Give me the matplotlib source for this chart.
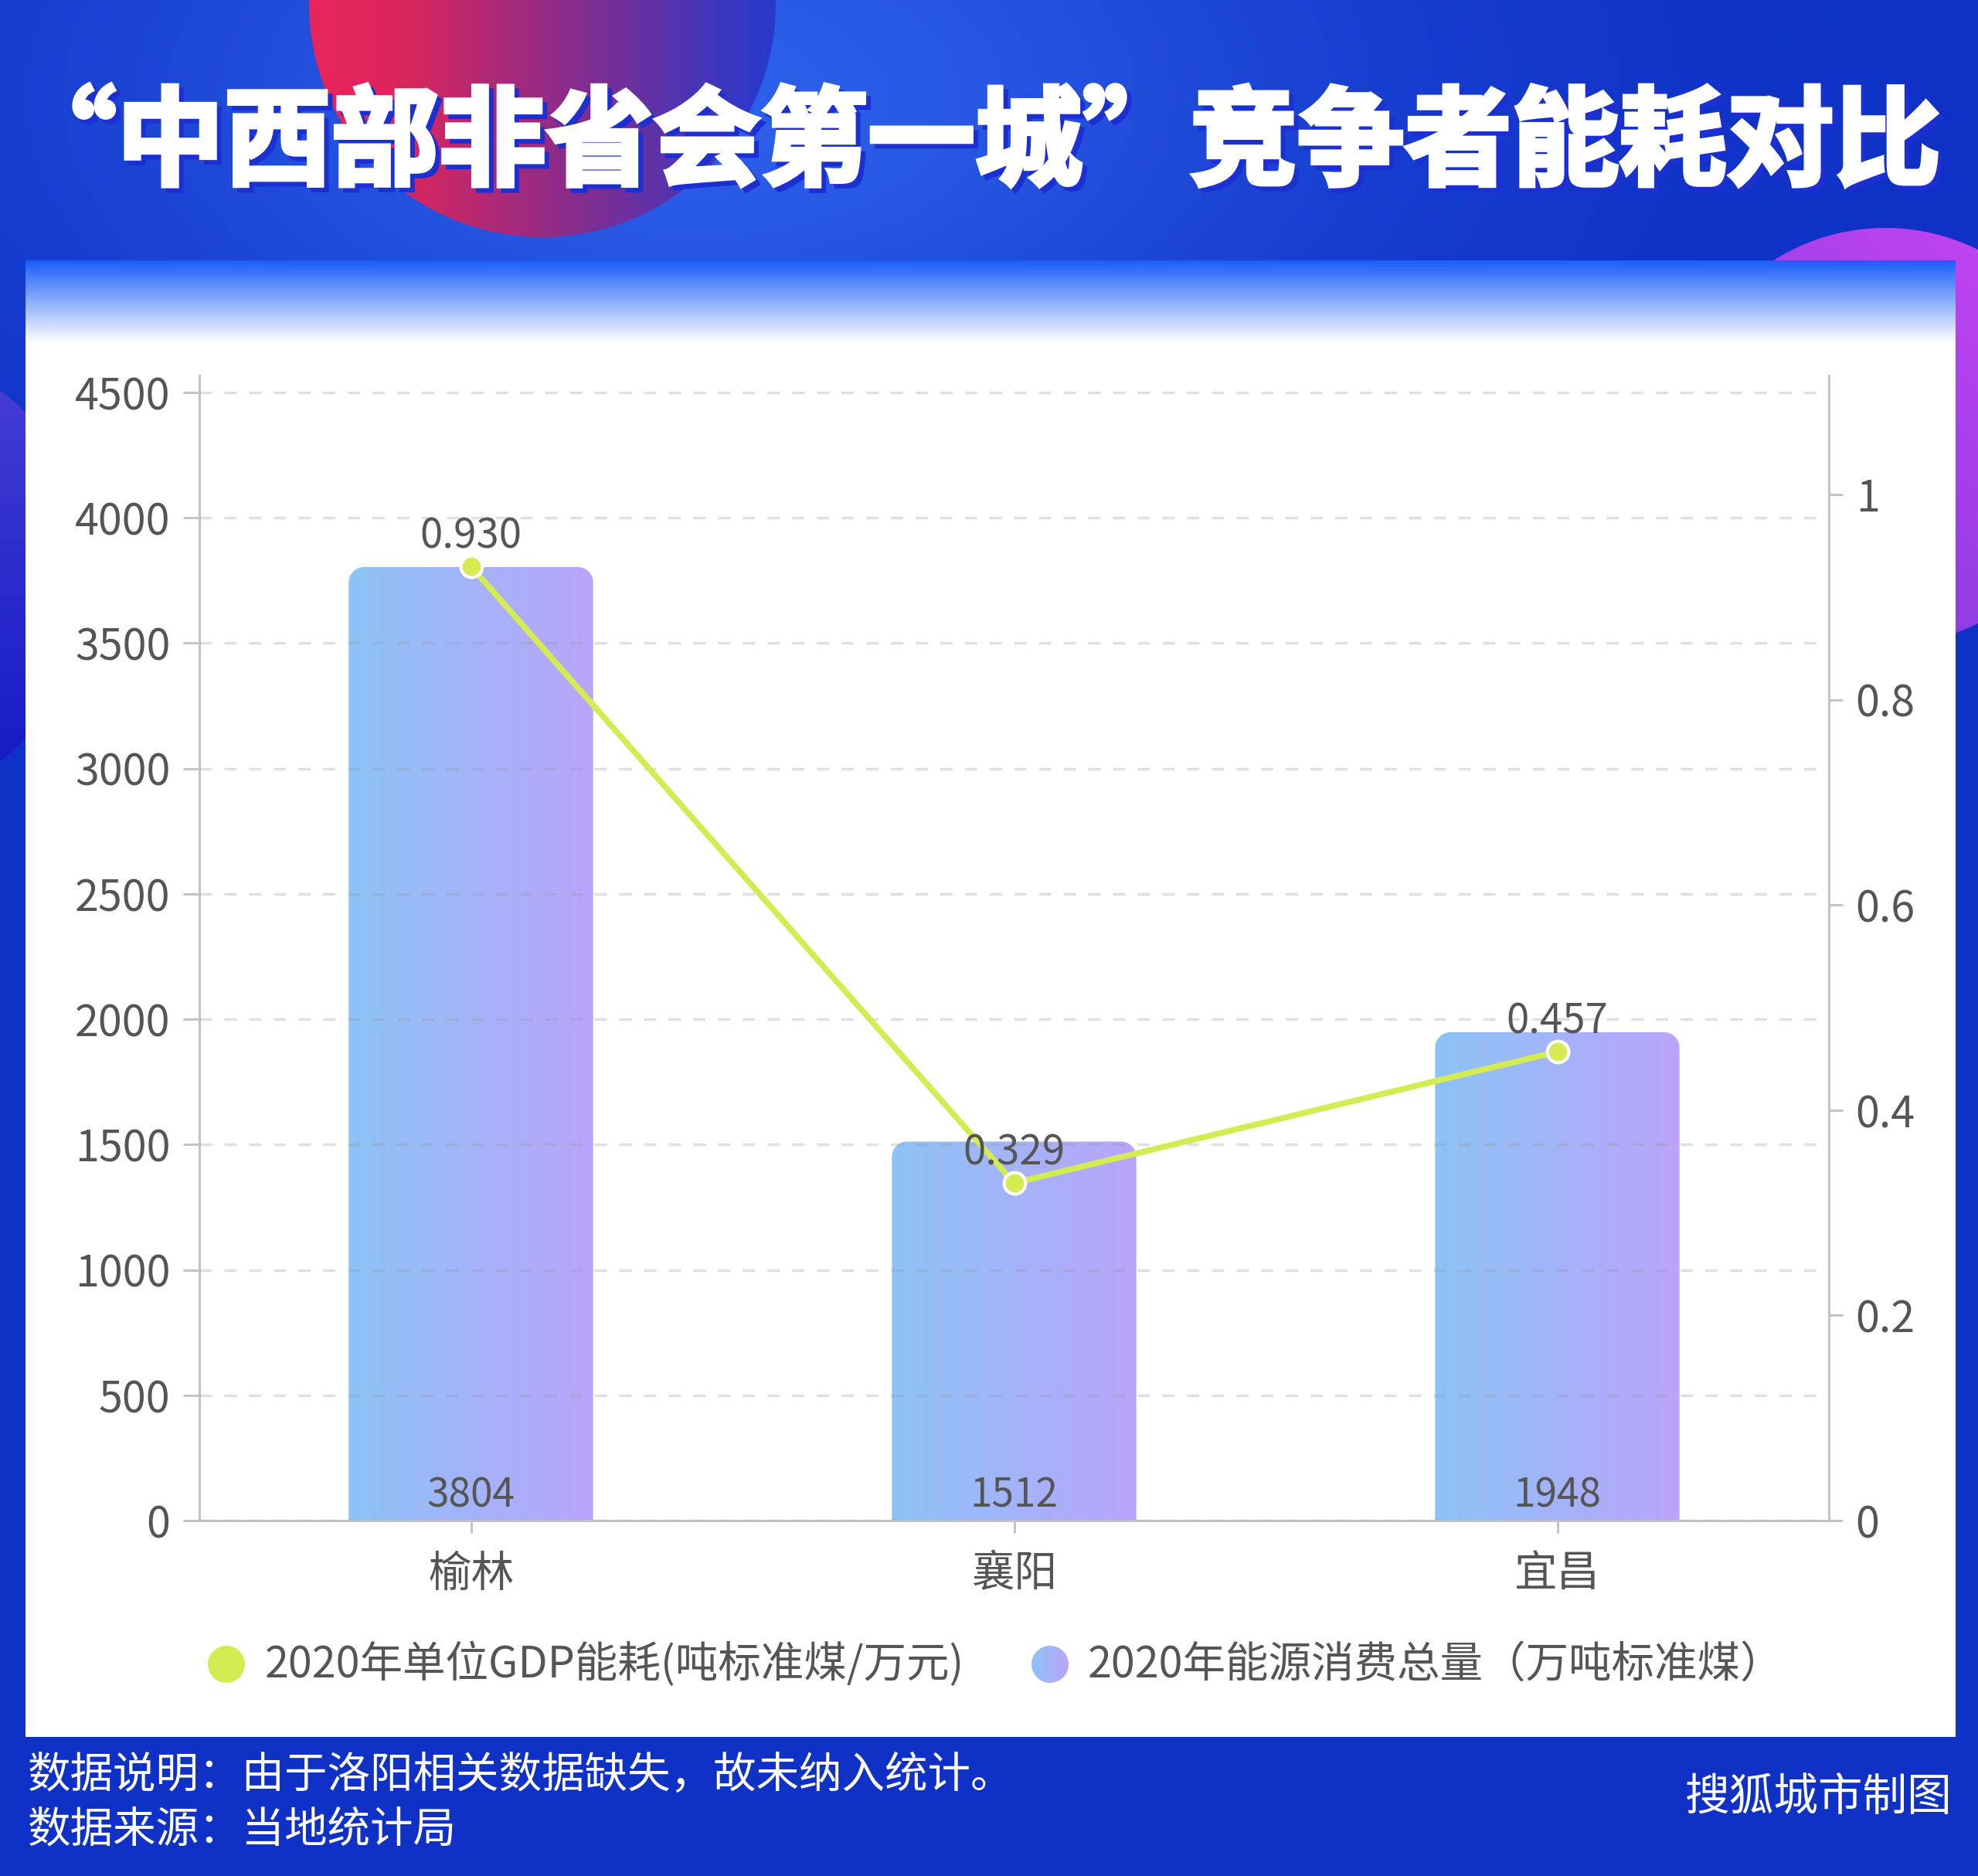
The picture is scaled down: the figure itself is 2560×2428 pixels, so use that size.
import numpy as np
import matplotlib
matplotlib.use('Agg')
import matplotlib.pyplot as plt
import matplotlib.patheffects as pe
from matplotlib.colors import LinearSegmentedColormap, to_rgb
from matplotlib.patches import Circle, Rectangle
from matplotlib.path import Path

plt.rcParams['font.family'] = ['Noto Sans CJK SC', 'DejaVu Sans']
plt.rcParams['lines.scale_dashes'] = False

# 数据
cities = ['榆林', '襄阳', '宜昌']
energy_total = [3804, 1512, 1948]          # 2020年能源消费总量（万吨标准煤）
gdp_energy = [0.930, 0.329, 0.457]         # 2020年单位GDP能耗(吨标准煤/万元)
left_ticks = [0, 500, 1000, 1500, 2000, 2500, 3000, 3500, 4000, 4500]
right_ticks = [0, 0.2, 0.4, 0.6, 0.8, 1]
right_tick_labels = ['0', '0.2', '0.4', '0.6', '0.8', '1']

title = '“中西部非省会第一城”竞争者能耗对比'
legend_line = '2020年单位GDP能耗(吨标准煤/万元)'
legend_bar = '2020年能源消费总量（万吨标准煤）'
note = '数据说明：由于洛阳相关数据缺失，故未纳入统计。'
source = '数据来源：当地统计局'
credit = '搜狐城市制图'

W, H = 2560, 2428
fig = plt.figure(figsize=(W / 100, H / 100), dpi=100)

# 背景层（像素坐标）
bg = fig.add_axes([0, 0, 1, 1], zorder=0)
bg.axis('off')

yy, xx = np.mgrid[0:H:8, 0:W:8]
base = np.array(to_rgb('#0f31c6'))
glow = np.array(to_rgb('#2c5fea'))
g = np.exp(-((xx - 900) / 800.0) ** 2 - ((yy - 120) / 430.0) ** 2)
img = base * (1 - g[..., None]) + glow * g[..., None]
bg.imshow(img, extent=(0, W, H, 0), origin='upper', aspect='auto', zorder=0)


def grad_circle(cx, cy, r, colors, angle, z=1):
    n = 200
    ys, xs = np.mgrid[0:n, 0:n] / (n - 1.0)
    a = np.radians(angle)
    t = (xs - 0.5) * np.cos(a) + (ys - 0.5) * np.sin(a)
    t = (t - t.min()) / (t.max() - t.min())
    cmap = LinearSegmentedColormap.from_list('c', colors)
    im = bg.imshow(cmap(t), extent=(cx - r, cx + r, cy + r, cy - r),
                   origin='upper', aspect='auto', zorder=z)
    circ = Circle((cx, cy), r, transform=bg.transData, fc='none', ec='none')
    bg.add_patch(circ)
    im.set_clip_path(circ)


# 装饰圆
grad_circle(702, 5, 302, [(0, '#e8245a'), (0.2, '#da265d'), (0.55, '#8c2c8a'),
                          (0.95, '#2f38c8'), (1, '#2a3acb')], 0)
grad_circle(2440, 565, 270, ['#d046f4', '#a03fe8', '#6a36dc'], 135)
grad_circle(-180, 745, 300, ['#4c40d6', '#2a2ccc', '#1418c4'], 90)

# 白色面板
bg.add_patch(Rectangle((33, 337), 2498, 1911, fc='white', ec='none', zorder=2))
pcmap = LinearSegmentedColormap.from_list('p', ['#1a5ef8', '#ffffff'])
bg.imshow(pcmap(np.linspace(0, 1, 256))[:, None, :], extent=(33, 2531, 444, 337),
          origin='upper', aspect='auto', zorder=3)

# 标题（粗体 + 蓝色投影）
bg.text(1262, 188, title, ha='center', va='center', fontsize=100,
        fontweight='heavy', color='white', zorder=5,
        path_effects=[
            pe.PathPatchEffect(offset=(4.3, -4.3), facecolor='#1b2fd3',
                               edgecolor='#1b2fd3', linewidth=4),
            pe.PathPatchEffect(facecolor='white', edgecolor='white', linewidth=4),
        ])

# 图例
bg.add_patch(Circle((293, 2154), 24, fc='#d4eb52', ec='none', zorder=4))
bar_colors = ['#8cc3f6', '#bba4fb']
lc = LinearSegmentedColormap.from_list('l', bar_colors)
im = bg.imshow(lc(np.linspace(0, 1, 64))[None, :, :], extent=(1335, 1383, 2178, 2130),
               origin='upper', aspect='auto', zorder=4)
c2 = Circle((1359, 2154), 24, transform=bg.transData, fc='none', ec='none')
bg.add_patch(c2)
im.set_clip_path(c2)
bg.text(343, 2155, legend_line, ha='left', va='center', fontsize=40, color='#555555', zorder=5)
bg.text(1408, 2155, legend_bar, ha='left', va='center', fontsize=40, color='#555555', zorder=5)

# 底部说明
bg.text(36, 2298, note, ha='left', va='center', fontsize=40, color='white', zorder=5)
bg.text(36, 2369, source, ha='left', va='center', fontsize=40, color='white', zorder=5)
bg.text(2527, 2327, credit, ha='right', va='center', fontsize=41.5, color='white', zorder=5)

bg.set_xlim(0, W)
bg.set_ylim(H, 0)

# 主图
ax_l, ax_r, ax_t, ax_b = 258, 2367, 486, 1968
ax = fig.add_axes([ax_l / W, 1 - ax_b / H, (ax_r - ax_l) / W, (ax_b - ax_t) / H], zorder=2)
ax.patch.set_alpha(0)
x = np.arange(len(cities))
ymax_left = 4568
ymax_right = 1.116

bars = ax.bar(x, energy_total, width=0.45, color='none', edgecolor='none')

# 圆角渐变柱
rx = 20 / ((ax_r - ax_l) / 3.0)
ry = 20 / ((ax_b - ax_t) / ymax_left)
bar_cmap = LinearSegmentedColormap.from_list('bar', bar_colors)
for rect in bars:
    x0, w, h = rect.get_x(), rect.get_width(), rect.get_height()
    x1 = x0 + w
    t = np.linspace(0, np.pi / 2, 20)
    left_arc = np.column_stack([x0 + rx - rx * np.cos(t), h - ry + ry * np.sin(t)])
    right_arc = np.column_stack([x1 - rx + rx * np.sin(t), h - ry + ry * np.cos(t)])
    verts = np.vstack([[x0, 0], left_arc, right_arc, [x1, 0], [x0, 0]])
    bim = ax.imshow(np.linspace(0, 1, 256)[None, :], cmap=bar_cmap, extent=(x0, x1, 0, h),
                    aspect='auto', origin='lower', zorder=2)
    bim.set_clip_path(Path(verts, closed=True), ax.transData)

for xi, v in zip(x, energy_total):
    ax.annotate(str(v), (xi, 0), xytext=(0, 23), textcoords='offset points',
                ha='center', va='center', fontsize=37, color='#555555', zorder=4)

ax.set_xlim(-0.5, 2.5)
ax.set_ylim(0, ymax_left)
ax.set_xticks(x)
ax.set_xticklabels(cities)
ax.set_yticks(left_ticks)
ax.yaxis.grid(True, color='#9a9a9a', alpha=0.3, lw=2.5, linestyle=(0, (11.5, 11.5)))
ax.set_axisbelow(False)
ax.tick_params(axis='y', length=15, width=2.2, color='#c4c4c4', pad=12,
               labelsize=40, labelcolor='#555555')
ax.tick_params(axis='x', length=11.5, width=2.2, color='#c4c4c4', pad=18,
               labelsize=40, labelcolor='#555555')
for s in ['top', 'right']:
    ax.spines[s].set_visible(False)
for s in ['left', 'bottom']:
    ax.spines[s].set_color('#c4c4c4')
    ax.spines[s].set_linewidth(2.2)

ax2 = ax.twinx()
ax2.plot(x, gdp_energy, color='#d4eb52', lw=5.5, marker='o', ms=20,
         mfc='#d4eb52', mec='white', mew=3, zorder=3, clip_on=False)
for xi, v in zip(x, gdp_energy):
    ax2.annotate(f'{v:.3f}', (xi, v), xytext=(0, 28), textcoords='offset points',
                 ha='center', va='center', fontsize=38, color='#555555', zorder=4)
ax2.set_ylim(0, ymax_right)
ax2.set_yticks(right_ticks)
ax2.set_yticklabels(right_tick_labels)
ax2.tick_params(axis='y', length=13, width=2.2, color='#c4c4c4', pad=12,
                labelsize=40, labelcolor='#555555')
for s in ['top', 'left', 'bottom']:
    ax2.spines[s].set_visible(False)
ax2.spines['right'].set_color('#c4c4c4')
ax2.spines['right'].set_linewidth(2.2)

fig.savefig('out.png', dpi=100)
